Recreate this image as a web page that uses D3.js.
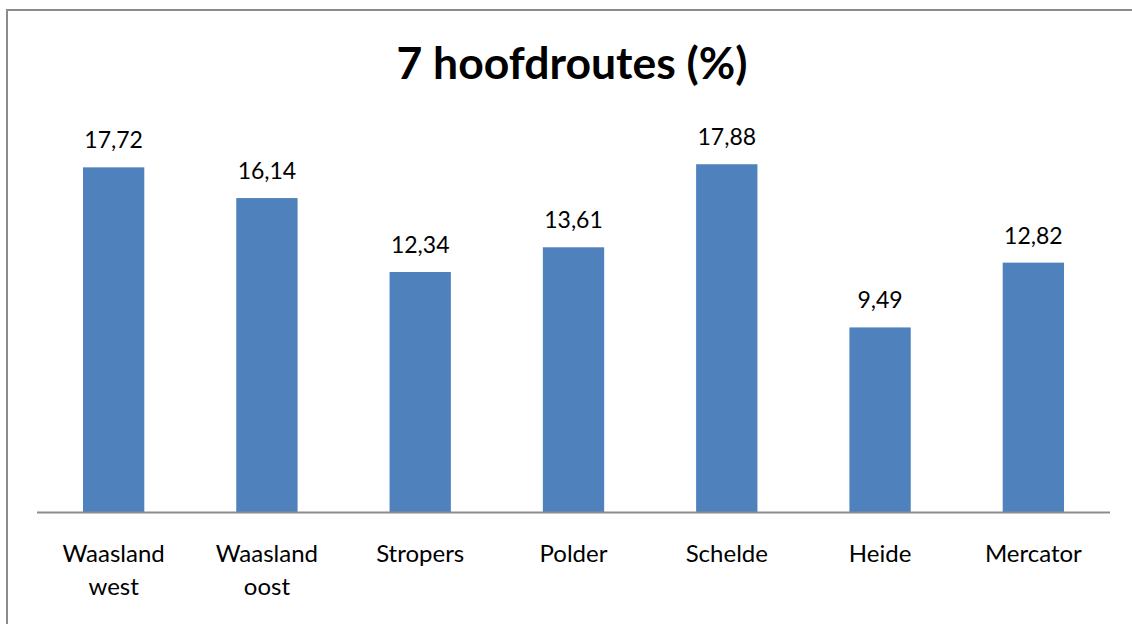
<!DOCTYPE html>
<head>
    <meta charset="utf-8">
    <style>
        html, body{ margin:0; background:white; overflow:hidden; }
        svg{ background-color:white; display:block; }
        text{ font-family: Lato, "Open Sans", sans-serif; fill:#000; }
    </style>
</head>
<body>
<script src="https://d3js.org/d3.v7.min.js"></script>
<script>

const width = 1132;
const height = 624;

const categories = [['Waasland', 'west'], ['Waasland', 'oost'], ['Stropers'], ['Polder'], ['Schelde'], ['Heide'], ['Mercator']];
const values = [17.72, 16.14, 12.34, 13.61, 17.88, 9.49, 12.82];
const valueLabels = ['17,72', '16,14', '12,34', '13,61', '17,88', '9,49', '12,82'];
const title = '7 hoofdroutes (%)';

const plot = {left: 37, right: 1110, top: 123, bottom: 512};

const svg = d3.select('body').append('svg')
    .attr('width', width)
    .attr('height', height);

// chart border: only the left and top edges are inside the picture
svg.append('path')
    .attr('d', `M7,${height}V10H${width}`)
    .style('fill', 'none')
    .style('stroke', '#8c8c8c')
    .style('stroke-width', 2);

const x = d3.scaleBand()
    .domain(d3.range(values.length))
    .range([plot.left, plot.right])
    .paddingInner(0.6)
    .paddingOuter(0.3);

const y = d3.scaleLinear()
    .domain([0, 20])
    .range([plot.bottom, plot.top]);

svg.append('text')
    .attr('x', 572)
    .attr('y', 79)
    .attr('text-anchor', 'middle')
    .style('font-size', '44.5px')
    .style('font-weight', 'bold')
    .text(title);

svg.selectAll('rect.bar')
    .data(values)
    .join('rect')
        .attr('class', 'bar')
        .attr('x', (d, i) => x(i))
        .attr('y', d => y(d))
        .attr('width', x.bandwidth())
        .attr('height', d => y(0) - y(d))
        .style('fill', '#4f81bd');

svg.selectAll('text.val')
    .data(values)
    .join('text')
        .attr('class', 'val')
        .attr('x', (d, i) => x(i) + x.bandwidth() / 2)
        .attr('y', d => y(d) - 19)
        .attr('text-anchor', 'middle')
        .style('font-size', '23px')
        .text((d, i) => valueLabels[i]);

// category axis
const xAxis = svg.append('g')
    .attr('transform', `translate(0, ${plot.bottom})`)
    .call(d3.axisBottom(x).tickSize(0).tickFormat(''));
xAxis.select('.domain')
    .attr('d', `M${plot.left},0.5H${plot.right}`)
    .style('stroke', '#8c8c8c')
    .style('stroke-width', 2);

const cats = svg.selectAll('text.cat')
    .data(categories)
    .join('text')
        .attr('class', 'cat')
        .attr('x', (d, i) => x(i) + x.bandwidth() / 2)
        .attr('y', 562)
        .attr('text-anchor', 'middle')
        .style('font-size', '24px');

cats.selectAll('tspan')
    .data((d, i) => d.map(t => ({t, cx: x(i) + x.bandwidth() / 2})))
    .join('tspan')
        .attr('x', d => d.cx)
        .attr('dy', (d, j) => j === 0 ? 0 : 33)
        .text(d => d.t);

</script>
</body>
</html>
